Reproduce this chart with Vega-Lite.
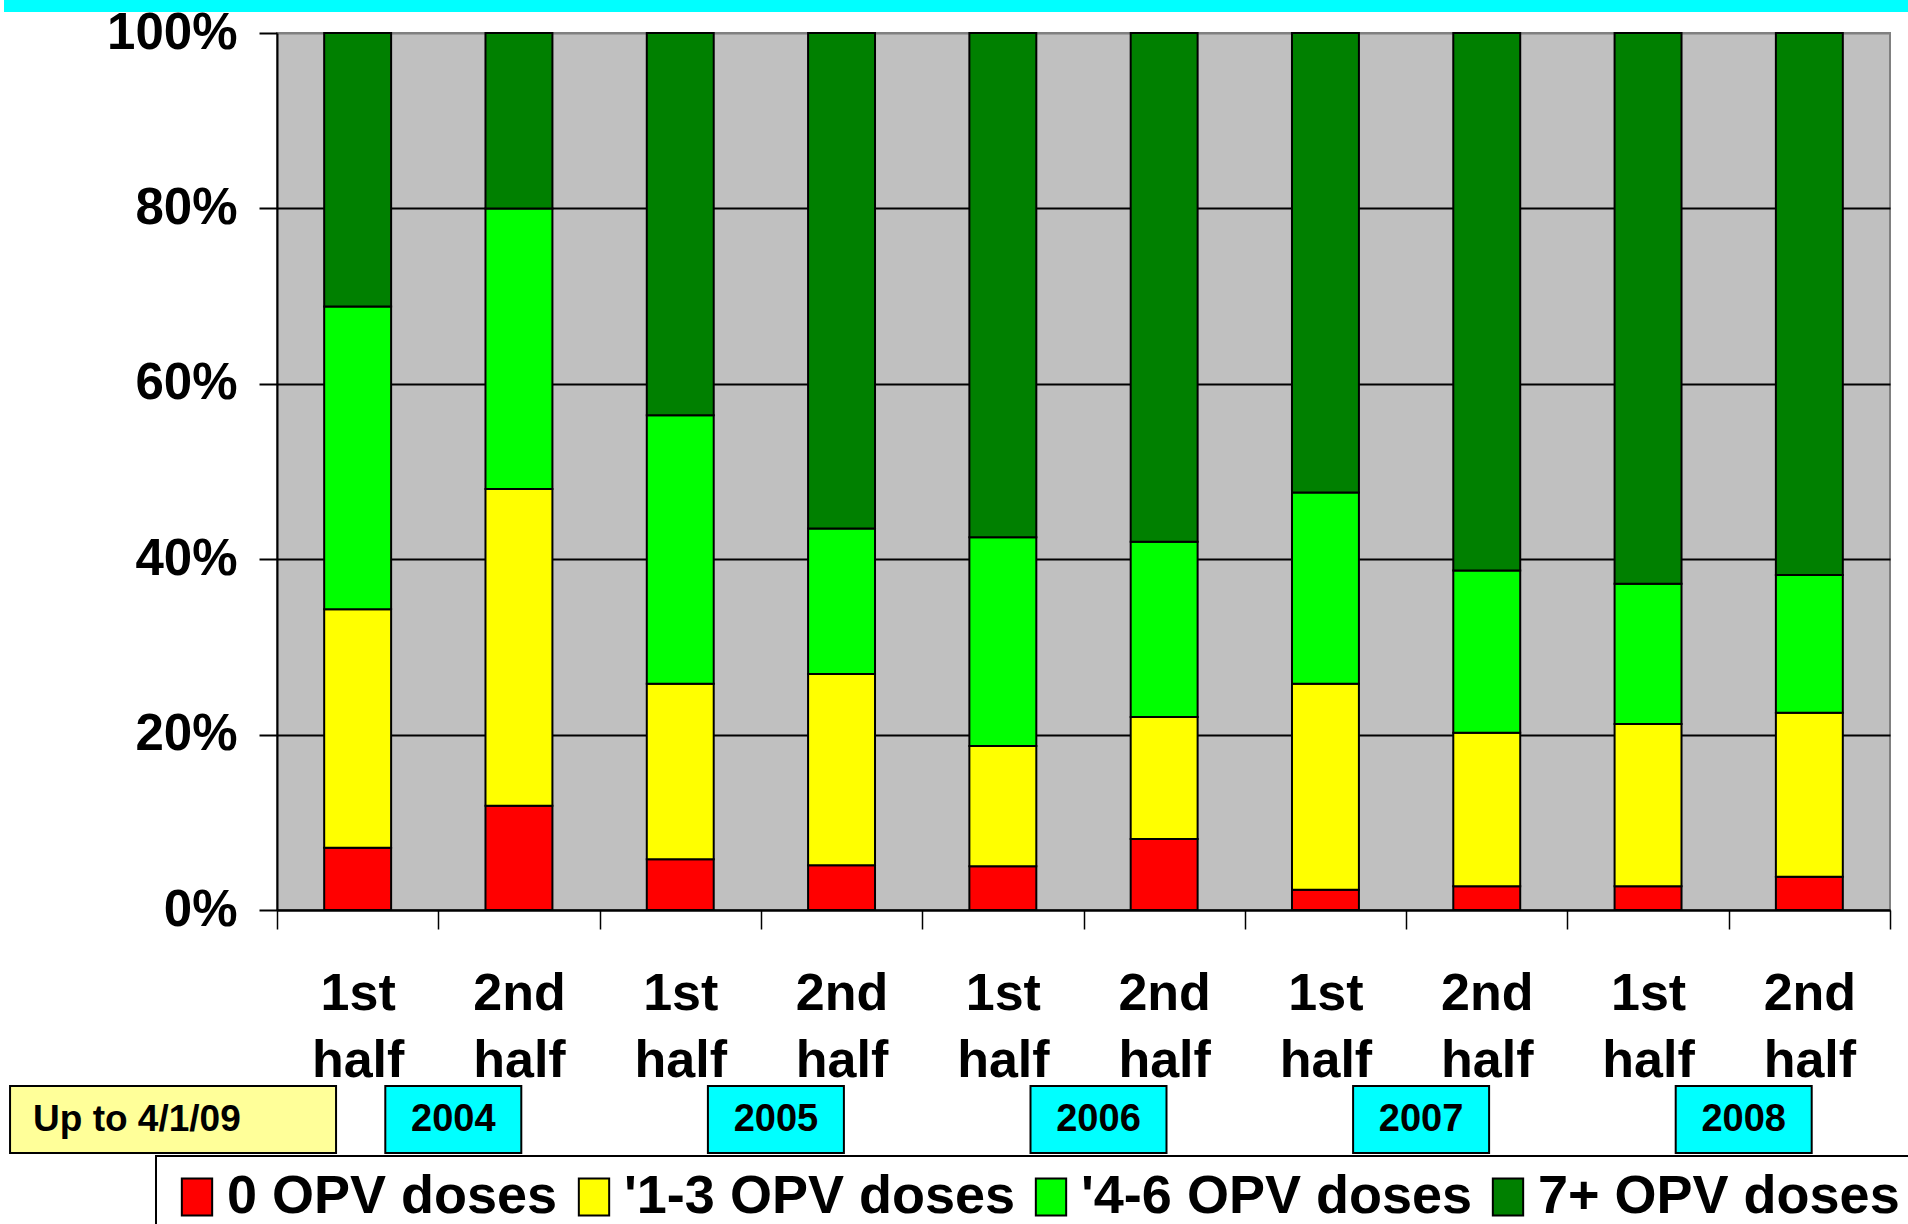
{
  "$schema": "https://vega.github.io/schema/vega-lite/v6.json",
  "width": 1613,
  "height": 877,
  "autosize": {"type": "none"},
  "padding": {"left": 277, "top": 33, "right": 18, "bottom": 314},
  "background": "white",
  "config": {
    "view": {"fill": "#C0C0C0", "stroke": "#808080", "strokeWidth": 2},
    "font": "Liberation Sans"
  },
  "datasets": {
    "bars": [
      {"period": "2004 1st half", "dose": "0 OPV doses", "rank": 1, "value": 7.1},
      {"period": "2004 1st half", "dose": "'1-3 OPV doses", "rank": 2, "value": 27.2},
      {"period": "2004 1st half", "dose": "'4-6 OPV doses", "rank": 3, "value": 34.5},
      {"period": "2004 1st half", "dose": "7+ OPV doses", "rank": 4, "value": 31.2},
      {"period": "2004 2nd half", "dose": "0 OPV doses", "rank": 1, "value": 11.9},
      {"period": "2004 2nd half", "dose": "'1-3 OPV doses", "rank": 2, "value": 36.1},
      {"period": "2004 2nd half", "dose": "'4-6 OPV doses", "rank": 3, "value": 32.0},
      {"period": "2004 2nd half", "dose": "7+ OPV doses", "rank": 4, "value": 20.0},
      {"period": "2005 1st half", "dose": "0 OPV doses", "rank": 1, "value": 5.8},
      {"period": "2005 1st half", "dose": "'1-3 OPV doses", "rank": 2, "value": 20.0},
      {"period": "2005 1st half", "dose": "'4-6 OPV doses", "rank": 3, "value": 30.6},
      {"period": "2005 1st half", "dose": "7+ OPV doses", "rank": 4, "value": 43.6},
      {"period": "2005 2nd half", "dose": "0 OPV doses", "rank": 1, "value": 5.1},
      {"period": "2005 2nd half", "dose": "'1-3 OPV doses", "rank": 2, "value": 21.8},
      {"period": "2005 2nd half", "dose": "'4-6 OPV doses", "rank": 3, "value": 16.6},
      {"period": "2005 2nd half", "dose": "7+ OPV doses", "rank": 4, "value": 56.5},
      {"period": "2006 1st half", "dose": "0 OPV doses", "rank": 1, "value": 5.0},
      {"period": "2006 1st half", "dose": "'1-3 OPV doses", "rank": 2, "value": 13.7},
      {"period": "2006 1st half", "dose": "'4-6 OPV doses", "rank": 3, "value": 23.8},
      {"period": "2006 1st half", "dose": "7+ OPV doses", "rank": 4, "value": 57.5},
      {"period": "2006 2nd half", "dose": "0 OPV doses", "rank": 1, "value": 8.1},
      {"period": "2006 2nd half", "dose": "'1-3 OPV doses", "rank": 2, "value": 13.9},
      {"period": "2006 2nd half", "dose": "'4-6 OPV doses", "rank": 3, "value": 20.0},
      {"period": "2006 2nd half", "dose": "7+ OPV doses", "rank": 4, "value": 58.0},
      {"period": "2007 1st half", "dose": "0 OPV doses", "rank": 1, "value": 2.3},
      {"period": "2007 1st half", "dose": "'1-3 OPV doses", "rank": 2, "value": 23.5},
      {"period": "2007 1st half", "dose": "'4-6 OPV doses", "rank": 3, "value": 21.8},
      {"period": "2007 1st half", "dose": "7+ OPV doses", "rank": 4, "value": 52.4},
      {"period": "2007 2nd half", "dose": "0 OPV doses", "rank": 1, "value": 2.7},
      {"period": "2007 2nd half", "dose": "'1-3 OPV doses", "rank": 2, "value": 17.5},
      {"period": "2007 2nd half", "dose": "'4-6 OPV doses", "rank": 3, "value": 18.5},
      {"period": "2007 2nd half", "dose": "7+ OPV doses", "rank": 4, "value": 61.3},
      {"period": "2008 1st half", "dose": "0 OPV doses", "rank": 1, "value": 2.7},
      {"period": "2008 1st half", "dose": "'1-3 OPV doses", "rank": 2, "value": 18.5},
      {"period": "2008 1st half", "dose": "'4-6 OPV doses", "rank": 3, "value": 16.0},
      {"period": "2008 1st half", "dose": "7+ OPV doses", "rank": 4, "value": 62.8},
      {"period": "2008 2nd half", "dose": "0 OPV doses", "rank": 1, "value": 3.8},
      {"period": "2008 2nd half", "dose": "'1-3 OPV doses", "rank": 2, "value": 18.7},
      {"period": "2008 2nd half", "dose": "'4-6 OPV doses", "rank": 3, "value": 15.7},
      {"period": "2008 2nd half", "dose": "7+ OPV doses", "rank": 4, "value": 61.8}
    ],
    "years": [
      {"year": "2004", "period": "2004 1st half"},
      {"year": "2005", "period": "2005 1st half"},
      {"year": "2006", "period": "2006 1st half"},
      {"year": "2007", "period": "2007 1st half"},
      {"year": "2008", "period": "2008 1st half"}
    ],
    "note": [
      {"note": "Up to 4/1/09", "period": "2004 1st half"}
    ]
  },
  "layer": [
    {
      "data": {"name": "bars"},
      "mark": {"type": "bar", "width": {"band": 0.415}, "stroke": "black", "strokeWidth": 2},
      "encoding": {
        "x": {
          "field": "period",
          "type": "nominal",
          "scale": {
            "domain": ["2004 1st half", "2004 2nd half", "2005 1st half", "2005 2nd half", "2006 1st half", "2006 2nd half", "2007 1st half", "2007 2nd half", "2008 1st half", "2008 2nd half"],
            "paddingInner": 0,
            "paddingOuter": 0
          },
          "axis": {
            "title": null,
            "labelExpr": "split(substring(datum.label, 5), ' ')",
            "labelAngle": 0,
            "labelFont": "Liberation Sans",
            "labelFontSize": 52,
            "labelFontWeight": "bold",
            "labelColor": "black",
            "labelPadding": 39,
            "labelLineHeight": 67,
            "labelBaseline": "top",
            "labelLimit": 0,
            "tickBand": "extent",
            "tickSize": 19,
            "tickWidth": 1.5,
            "tickColor": "black",
            "domainColor": "black",
            "domainWidth": 2,
            "grid": false
          }
        },
        "y": {
          "field": "value",
          "type": "quantitative",
          "stack": "normalize",
          "scale": {"domain": [0, 1], "nice": false},
          "axis": {
            "title": null,
            "values": [0, 0.2, 0.4, 0.6, 0.8, 1],
            "format": ".0%",
            "labelFont": "Liberation Sans",
            "labelFontSize": 51,
            "labelFontWeight": "bold",
            "labelColor": "black",
            "labelPadding": 22,
            "tickSize": 18,
            "tickWidth": 2,
            "tickColor": "black",
            "domainColor": "black",
            "domainWidth": 2,
            "grid": true,
            "gridColor": {"condition": {"test": "datum.value >= 1", "value": "#808080"}, "value": "black"},
            "gridWidth": 2,
            "gridOpacity": 1
          }
        },
        "color": {
          "field": "dose",
          "type": "nominal",
          "scale": {
            "domain": ["0 OPV doses", "'1-3 OPV doses", "'4-6 OPV doses", "7+ OPV doses"],
            "range": ["#FF0000", "#FFFF00", "#00FF00", "#008000"]
          },
          "legend": {
            "orient": "none",
            "legendX": -121,
            "legendY": 1123,
            "direction": "horizontal",
            "columns": 4,
            "title": null,
            "labelFont": "Liberation Sans",
            "labelFontSize": 54,
            "labelFontWeight": "bold",
            "labelColor": "black",
            "labelLimit": 0,
            "labelOffset": 3,
            "columnPadding": 9,
            "padding": 14,
            "symbolType": "M-0.82,-1H0.82V1H-0.82Z",
            "symbolSize": 1369,
            "symbolStrokeColor": "black",
            "symbolStrokeWidth": 2,
            "symbolOpacity": 1,
            "fillColor": "white",
            "strokeColor": "black",
            "encode": {"legend": {"update": {"strokeWidth": {"value": 2}}}}
          }
        },
        "order": {"field": "rank", "type": "quantitative"}
      }
    },
    {
      "data": {"values": [{"band": "top"}]},
      "mark": {"type": "rect", "fill": "#00FFFF", "x": -273, "x2": 1631},
      "encoding": {
        "y": {"datum": 1.0376, "type": "quantitative", "scale": {"domain": [0, 1], "nice": false}},
        "y2": {"datum": 1.0239}
      }
    },
    {
      "data": {"name": "years"},
      "mark": {"type": "rect", "width": 136, "xOffset": 95.65, "fill": "#00FFFF", "stroke": "black", "strokeWidth": 2},
      "encoding": {
        "x": {"field": "period", "type": "nominal"},
        "y": {"datum": -0.2007, "type": "quantitative", "scale": {"domain": [0, 1], "nice": false}},
        "y2": {"datum": -0.2771}
      }
    },
    {
      "data": {"name": "years"},
      "mark": {"type": "text", "xOffset": 95.65, "font": "Liberation Sans", "fontSize": 38, "fontWeight": "bold", "color": "black", "align": "center", "baseline": "middle"},
      "encoding": {
        "x": {"field": "period", "type": "nominal"},
        "y": {"datum": -0.2395, "type": "quantitative", "scale": {"domain": [0, 1], "nice": false}},
        "text": {"field": "year"}
      }
    },
    {
      "data": {"name": "note"},
      "mark": {"type": "rect", "width": 326, "xOffset": -184.6, "fill": "#FFFF99", "stroke": "black", "strokeWidth": 2},
      "encoding": {
        "x": {"field": "period", "type": "nominal"},
        "y": {"datum": -0.2007, "type": "quantitative", "scale": {"domain": [0, 1], "nice": false}},
        "y2": {"datum": -0.2771}
      }
    },
    {
      "data": {"name": "note"},
      "mark": {"type": "text", "xOffset": -324.6, "font": "Liberation Sans", "fontSize": 37, "fontWeight": "bold", "color": "black", "align": "left", "baseline": "middle"},
      "encoding": {
        "x": {"field": "period", "type": "nominal"},
        "y": {"datum": -0.2395, "type": "quantitative", "scale": {"domain": [0, 1], "nice": false}},
        "text": {"field": "note"}
      }
    }
  ]
}
